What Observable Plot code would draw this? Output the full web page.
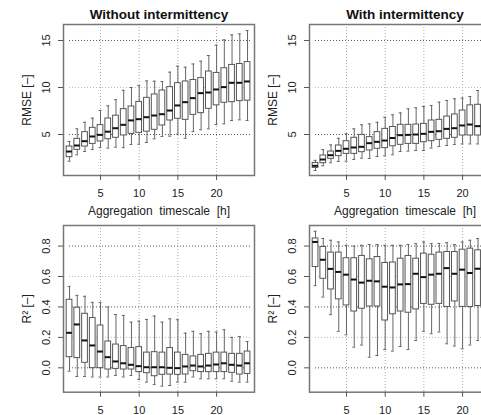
<!DOCTYPE html>
<html><head><meta charset="utf-8">
<script src="https://cdn.jsdelivr.net/npm/d3@7"></script>
<script src="https://cdn.jsdelivr.net/npm/@observablehq/plot@0.6"></script>
<style>
html,body{margin:0;padding:0;background:#fff;overflow:hidden;width:481px;height:415px}
#wrap{position:relative;width:481px;height:415px;overflow:hidden;font-family:"Liberation Sans",Arial,sans-serif}
.panel{position:absolute;width:262px}
.panel svg{max-width:none !important}
svg text{white-space:pre}
</style></head><body><div id="wrap"></div>
<script>
const timescale = [1,2,3,4,5,6,7,8,9,10,11,12,13,14,15,16,17,18,19,20,21,22,23,24];
const xTicks = [5,10,15,20];
const titles = ["Without intermittency", "With intermittency"];
const xTitle = "Aggregation  timescale  [h]";
const rmseLabel = "RMSE [–]";
const r2Label = "R² [–]";
const rmseTicks = [5,10,15];
const r2Ticks = [0,0.2,0.4,0.6,0.8];

// RMSE, without intermittency (whisker low, Q1, median, Q3, whisker high)
const rmseNoLo  = [2.16,2.84,3.19,3.4,3.6,3.55,3.65,3.6,3.94,3.97,4.15,4.54,4.79,4.82,5.04,4.6,5.3,5.5,5.6,6.06,6.13,6.49,6.56,6.49];
const rmseNoQ1  = [2.59,3.37,3.72,4.0,4.26,4.5,4.65,4.9,5.07,5.18,5.3,5.5,5.96,6.49,6.67,6.56,7.09,7.27,7.73,8.1,8.37,8.44,8.55,8.6];
const rmseNoMed = [3.19,3.83,4.29,4.79,4.96,5.3,5.67,6.03,6.5,6.63,6.84,7.02,7.16,7.55,8.09,8.44,8.87,9.4,9.47,9.79,10.04,10.5,10.5,10.64];
const rmseNoQ3  = [3.72,4.54,5.25,5.71,6.0,6.7,7.0,7.7,7.98,8.47,8.9,9.26,9.68,10.04,10.46,10.64,10.8,11.0,11.7,11.55,12.05,12.4,12.5,12.7];
const rmseNoHi  = [4.26,5.6,6.3,6.74,7.55,8.05,8.7,9.7,10.0,10.2,10.7,10.67,10.64,11.63,12.27,12.16,12.5,12.8,13.4,14.5,15.07,15.6,15.7,16.06];

// RMSE, with intermittency (boxes 1..22 visible)
const rmseWiLo  = [1.17,1.67,1.99,2.13,2.16,2.34,2.48,2.45,2.66,2.73,2.84,3.19,3.23,3.3,3.3,3.55,3.72,3.83,3.94,4.0,4.0,4.0];
const rmseWiQ1  = [1.45,1.95,2.41,2.7,2.94,2.94,3.12,3.3,3.48,3.55,3.75,3.9,4.0,4.0,4.18,4.29,4.43,4.54,4.65,4.89,4.89,4.89];
const rmseWiMed = [1.67,2.34,2.8,3.26,3.48,3.62,3.69,4.08,4.22,4.36,4.63,4.93,4.96,5.0,5.07,5.28,5.35,5.6,5.67,5.96,6.06,5.89];
const rmseWiQ3  = [1.97,2.77,3.19,3.83,4.29,4.65,4.96,4.72,5.25,5.6,5.8,6.03,6.03,6.06,6.13,6.49,6.56,6.91,7.13,7.55,8.1,8.16];
const rmseWiHi  = [2.25,3.4,3.9,4.6,5.07,5.6,6.03,6.13,6.3,6.84,7.1,7.3,7.73,7.84,7.98,8.09,8.44,8.62,8.8,8.87,9.04,9.68];

// R², without intermittency
const r2NoLo  = [-0.022,-0.057,-0.057,-0.06,-0.06,-0.06,-0.05,-0.06,-0.05,-0.077,-0.094,-0.11,-0.12,-0.116,-0.094,-0.094,-0.06,-0.072,-0.072,-0.072,-0.072,-0.088,-0.094,-0.094];
const r2NoQ1  = [0.07,0.064,0.033,-0.002,-0.002,-0.011,-0.007,-0.011,-0.011,-0.028,-0.035,-0.055,-0.046,-0.044,-0.046,-0.044,-0.022,-0.028,-0.028,-0.028,-0.028,-0.033,-0.044,-0.04];
const r2NoMed = [0.23,0.285,0.18,0.147,0.107,0.07,0.042,0.03,0.02,0.011,0.004,0.004,0.004,0.0,-0.002,0.009,0.015,0.009,0.015,0.022,0.03,0.02,0.015,0.03];
const r2NoQ3  = [0.447,0.395,0.355,0.327,0.278,0.173,0.153,0.143,0.13,0.136,0.1,0.103,0.1,0.13,0.1,0.085,0.075,0.085,0.092,0.1,0.1,0.092,0.092,0.107];
const r2NoHi  = [0.535,0.476,0.47,0.43,0.43,0.4,0.35,0.344,0.3,0.307,0.318,0.34,0.3,0.322,0.316,0.228,0.24,0.224,0.24,0.235,0.25,0.2,0.206,0.173];

// R², with intermittency (boxes 1..22 visible)
const r2WiLo  = [0.54,0.465,0.349,0.24,0.217,0.136,0.15,0.07,0.081,0.12,0.11,0.14,0.12,0.18,0.24,0.224,0.235,0.158,0.143,0.125,0.15,0.18];
const r2WiQ1  = [0.662,0.585,0.515,0.45,0.41,0.37,0.388,0.403,0.403,0.311,0.352,0.37,0.362,0.384,0.42,0.414,0.42,0.4,0.436,0.4,0.4,0.406];
const r2WiMed = [0.827,0.71,0.65,0.63,0.612,0.58,0.56,0.572,0.568,0.533,0.528,0.548,0.55,0.618,0.596,0.612,0.618,0.655,0.618,0.645,0.623,0.651];
const r2WiQ3  = [0.85,0.794,0.757,0.757,0.72,0.72,0.735,0.713,0.728,0.689,0.692,0.717,0.735,0.717,0.75,0.743,0.757,0.761,0.761,0.776,0.783,0.772];
const r2WiHi  = [0.897,0.85,0.838,0.827,0.805,0.8,0.805,0.81,0.81,0.805,0.805,0.805,0.81,0.816,0.827,0.816,0.816,0.822,0.81,0.827,0.838,0.849];

const FONT = '"Liberation Sans", Arial, Helvetica, sans-serif';

function panel(o) {
  const rows = o.med.map((m, i) => ({t: timescale[i], lo: o.lo[i], q1: o.q1[i], med: m, q3: o.q3[i], hi: o.hi[i]}));
  const hw = 0.37, sw = 0.19;
  const marks = [
    Plot.ruleX(xTicks, {stroke: "#aaa", strokeDasharray: "1,2"}),
    Plot.ruleY(o.light, {x1: 1, x2: 24.5, stroke: "#bbb", strokeDasharray: "1,2"}),
    Plot.ruleY(o.dark, {x1: 1, x2: 24.5, stroke: "#555", strokeDasharray: "1,2"}),
    Plot.ruleX(rows, {x: "t", y1: "q3", y2: "hi", stroke: "#666"}),
    Plot.ruleX(rows, {x: "t", y1: "lo", y2: "q1", stroke: "#666"}),
    Plot.ruleY(rows, {y: "hi", x1: d => d.t - sw, x2: d => d.t + sw, stroke: "#666"}),
    Plot.ruleY(rows, {y: "lo", x1: d => d.t - sw, x2: d => d.t + sw, stroke: "#666"}),
    Plot.rect(rows, {x1: d => d.t - hw, x2: d => d.t + hw, y1: "q1", y2: "q3", fill: "white", stroke: "#555"}),
    Plot.ruleY(rows, {y: "med", x1: d => d.t - hw, x2: d => d.t + hw, stroke: "#111", strokeWidth: 2}),
    Plot.frame({stroke: "#777", strokeWidth: 1.5}),
    Plot.axisX(xTicks, {tickSize: 5, tickPadding: 9, stroke: "#555", fontSize: 11, label: null}),
    Plot.axisY(o.ticks, {tickSize: 5, tickRotate: -90, tickPadding: 9, stroke: "#555", fontSize: 11, label: null, tickFormat: o.fmt}),
    Plot.text([o.yLabel], {frameAnchor: "left", rotate: -90, dx: -36, textAnchor: "middle", lineAnchor: "middle", fontSize: 12, fill: "#222"})
  ];
  if (o.title) marks.push(Plot.text([o.title], {frameAnchor: "top", dy: -9.5, lineAnchor: "middle", textAnchor: "middle", fontSize: 13.5, fontWeight: "bold", fill: "#111"}));
  if (o.xLabel) marks.push(Plot.text([o.xLabel], {frameAnchor: "bottom", dy: 36, lineAnchor: "middle", textAnchor: "middle", fontSize: 12, fill: "#222"}));
  return Plot.plot({
    width: 262, height: o.height,
    marginLeft: 63, marginRight: 8, marginTop: o.mt, marginBottom: o.mb,
    style: {background: "transparent", fontFamily: FONT, color: "#222", overflow: "visible", maxWidth: "none"},
    x: {domain: [0.22, 24.9]},
    y: {domain: o.domain},
    marks
  });
}

const wrap = document.getElementById("wrap");
function place(node, left, top) {
  const d = document.createElement("div");
  d.className = "panel";
  d.style.left = left + "px";
  d.style.top = top + "px";
  d.appendChild(node);
  wrap.appendChild(d);
}
const topCommon = {height: 220, mt: 24, mb: 45, domain: [0.64, 16.7], ticks: rmseTicks, dark: [5, 15], light: [10], yLabel: rmseLabel, xLabel: xTitle, fmt: d3.format("d")};
const botCommon = {height: 210, mt: 20, mb: 23.3, domain: [-0.16, 0.935], ticks: r2Ticks, dark: [0, 0.4, 0.8], light: [0.2, 0.6], yLabel: r2Label, fmt: d3.format(".1f")};

place(panel({...topCommon, title: titles[0], lo: rmseNoLo, q1: rmseNoQ1, med: rmseNoMed, q3: rmseNoQ3, hi: rmseNoHi}), 0, 0);
place(panel({...topCommon, title: titles[1], lo: rmseWiLo, q1: rmseWiQ1, med: rmseWiMed, q3: rmseWiQ3, hi: rmseWiHi}), 245.5, 0);
place(panel({...botCommon, lo: r2NoLo, q1: r2NoQ1, med: r2NoMed, q3: r2NoQ3, hi: r2NoHi}), 0, 205);
place(panel({...botCommon, lo: r2WiLo, q1: r2WiQ1, med: r2WiMed, q3: r2WiQ3, hi: r2WiHi}), 245.5, 205);
</script>
</body></html>
